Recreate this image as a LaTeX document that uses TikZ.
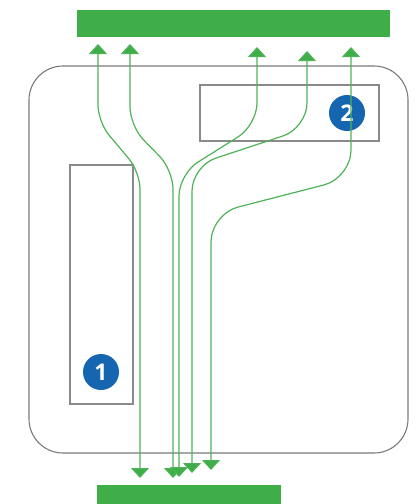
\documentclass[tikz,border=0pt]{standalone}
\usepackage{fontspec}
\newfontfamily\badgefont{Open Sans}
\usetikzlibrary{arrows.meta}

\definecolor{flowgreen}{HTML}{3FAE49}
\definecolor{linegreen}{HTML}{4DB356}
\definecolor{badgeblue}{HTML}{1565B0}
\definecolor{framegray}{HTML}{7A7A7A}
\definecolor{zonegray}{HTML}{8A8A8A}

\tikzset{
  bar/.style={fill=flowgreen, draw=none, inner sep=0pt, outer sep=0pt},
  housing/.style={draw=framegray, line width=1.1pt, rounded corners=34pt,
    inner sep=0pt, outer sep=0pt},
  zone/.style={draw=zonegray, line width=1.1pt, inner sep=0pt, outer sep=0pt},
  badge/.style={circle, fill=badgeblue, minimum size=36pt, inner sep=0pt,
    text=white, font=\badgefont\bfseries\fontsize{23}{23}\selectfont},
  flow/.style={draw=linegreen, line width=1.2pt,
    {Triangle[width=18pt,length=10pt,fill=flowgreen]}-{Triangle[width=18pt,length=10pt,fill=flowgreen]}},
}

\begin{document}
\begin{tikzpicture}[x=1pt,y=-1pt]
\useasboundingbox (0,0) rectangle (420,504);

% supply and return bars
\node[bar, minimum width=313pt, minimum height=27pt] (topbar) at (233.5,23.5) {};
\node[bar, minimum width=184pt, minimum height=20pt] (botbar) at (189,495) {};

% housing and inner zones
\node[housing, minimum width=379pt, minimum height=387pt] (frame) at (218.5,259.5) {};
\node[zone, minimum width=63pt, minimum height=239pt] (zone1) at (101.5,284.5) {};
\node[zone, minimum width=179pt, minimum height=56pt] (zone2) at (289.5,113) {};

\node[badge] (c1) at (101,372) {1};
\node[badge] (c2) at (347,113) {2};

% flow path end points
\coordinate (a-in)  at (140,478); \coordinate (a-out) at (98,44);
\coordinate (b-in)  at (173,478); \coordinate (b-out) at (130,44);
\coordinate (c-in)  at (179,477); \coordinate (c-out) at (257,47);
\coordinate (d-in)  at (192,473); \coordinate (d-out) at (307,51);
\coordinate (e-in)  at (211,470); \coordinate (e-out) at (351,47);

% flow paths
\draw[flow, rounded corners=17pt] (a-in) -- (a-in |- 0,172) -- (a-out |- 0,122) -- (a-out);
\draw[flow, rounded corners=19pt] (b-in) -- (b-in |- 0,170) -- (b-out |- 0,126) -- (b-out);
\draw[flow, rounded corners=22pt] (c-in) -- (c-in |- 0,174) -- (c-out |- 0,125) -- (c-out);
\draw[flow, rounded corners=25pt] (d-in) -- (d-in |- 0,166) -- (d-out |- 0,128) -- (d-out);
\draw[flow, rounded corners=28pt] (e-in) -- (e-in |- 0,214) -- (e-out |- 0,178) -- (e-out);
\end{tikzpicture}
\end{document}
